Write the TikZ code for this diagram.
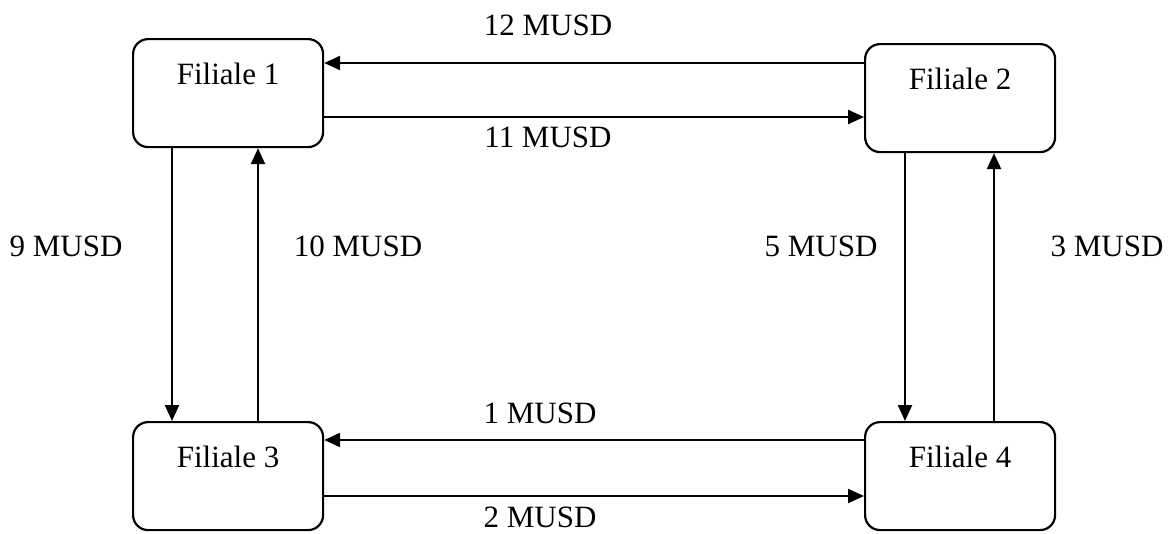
\documentclass[tikz,border=0pt]{standalone}
\usepackage{fontspec}
\setmainfont{Liberation Serif}
\usetikzlibrary{arrows.meta}
\begin{document}
\begin{tikzpicture}[x=1pt,y=-1pt,
  font=\fontsize{31}{36}\selectfont,
  box/.style={draw, line width=2.2pt, rounded corners=15pt, inner sep=0pt,
    minimum width=190pt, text height=45pt, text depth=63pt, anchor=north west},
  arr/.style={line width=2.4pt, -{Triangle[length=16pt,width=14pt]}},
  lbl/.style={anchor=base, inner sep=0pt}]
\useasboundingbox (0,0) rectangle (1170,533);
\node[box] (b1) at (132,38) {Filiale 1};
\node[box] (b2) at (864,43) {Filiale 2};
\node[box] (b3) at (132,421) {Filiale 3};
\node[box] (b4) at (864,421) {Filiale 4};
\coordinate (h12) at (0,63);
\coordinate (h11) at (0,117);
\coordinate (h1) at (0,440);
\coordinate (h2) at (0,496);
\coordinate (v9) at (172,0);
\coordinate (v10) at (258,0);
\coordinate (v5) at (905,0);
\coordinate (v3) at (994,0);
\draw[arr] (b2.west |- h12) -- (b1.east |- h12);
\draw[arr] (b1.east |- h11) -- (b2.west |- h11);
\draw[arr] (b4.west |- h1) -- (b3.east |- h1);
\draw[arr] (b3.east |- h2) -- (b4.west |- h2);
\draw[arr] (v9 |- b1.south) -- (v9 |- b3.north);
\draw[arr] (v10 |- b3.north) -- (v10 |- b1.south);
\draw[arr] (v5 |- b2.south) -- (v5 |- b4.north);
\draw[arr] (v3 |- b4.north) -- (v3 |- b2.south);
\node[lbl] (l12) at (548,35) {12 MUSD};
\node[lbl] (l11) at (548,147) {11 MUSD};
\node[lbl] (l9) at (66,256) {9 MUSD};
\node[lbl] (l10) at (358,256) {10 MUSD};
\node[lbl] (l5) at (821,256) {5 MUSD};
\node[lbl] (l3) at (1107,256) {3 MUSD};
\node[lbl] (l1) at (540,423) {1 MUSD};
\node[lbl] (l2) at (540,527) {2 MUSD};
\end{tikzpicture}
\end{document}
